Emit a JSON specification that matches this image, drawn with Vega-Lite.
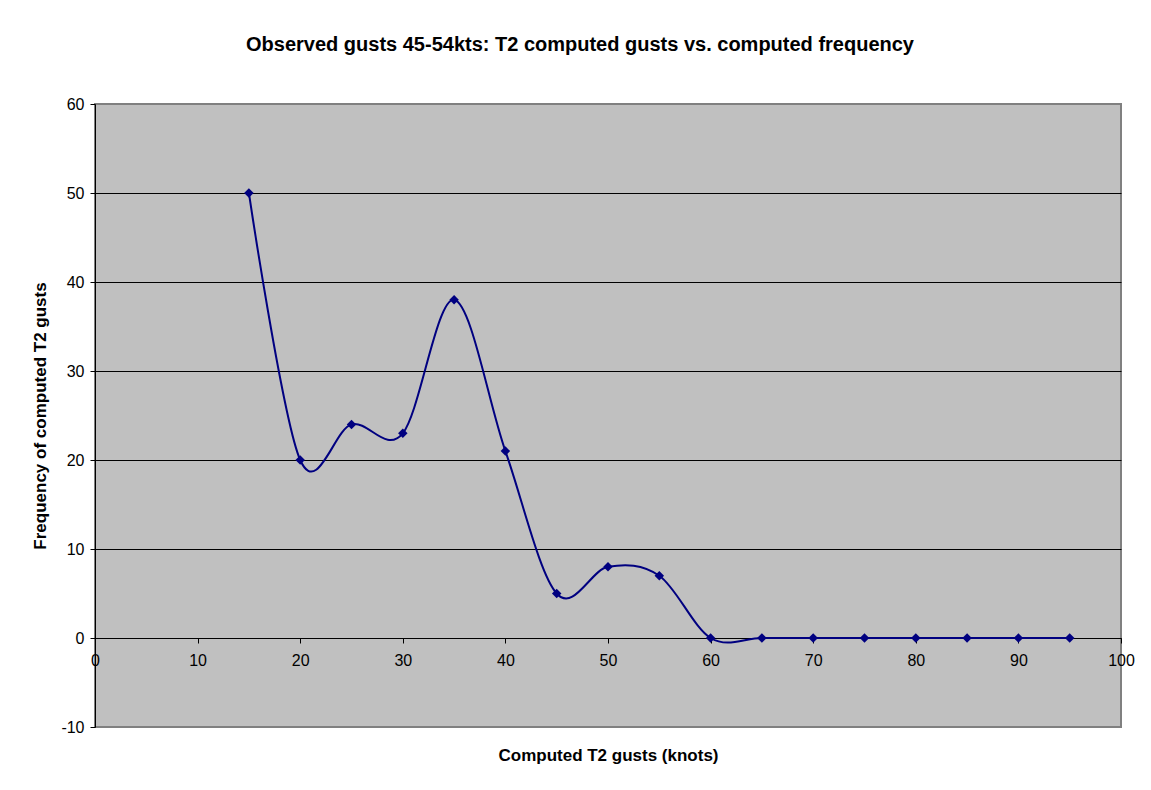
{
  "$schema": "https://vega.github.io/schema/vega-lite/v6.json",
  "width": 1026,
  "height": 623,
  "autosize": {"type": "none"},
  "padding": {"left": 95, "top": 104, "right": 30, "bottom": 63},
  "background": "white",
  "config": {
    "font": "Liberation Sans",
    "view": {"fill": "#C0C0C0", "stroke": "#808080", "strokeWidth": 2}
  },
  "title": {
    "text": "Observed gusts 45-54kts: T2 computed gusts vs. computed frequency",
    "font": "Liberation Sans",
    "fontSize": 20,
    "fontWeight": "bold",
    "color": "black",
    "anchor": "middle",
    "dx": -28,
    "offset": 41
  },
  "data": {
    "values": [
      {"gust": 15, "freq": 50},
      {"gust": 20, "freq": 20},
      {"gust": 25, "freq": 24},
      {"gust": 30, "freq": 23},
      {"gust": 35, "freq": 38},
      {"gust": 40, "freq": 21},
      {"gust": 45, "freq": 5},
      {"gust": 50, "freq": 8},
      {"gust": 55, "freq": 7},
      {"gust": 60, "freq": 0},
      {"gust": 65, "freq": 0},
      {"gust": 70, "freq": 0},
      {"gust": 75, "freq": 0},
      {"gust": 80, "freq": 0},
      {"gust": 85, "freq": 0},
      {"gust": 90, "freq": 0},
      {"gust": 95, "freq": 0}
    ]
  },
  "encoding": {
    "x": {
      "field": "gust",
      "type": "quantitative",
      "scale": {"domain": [0, 100], "nice": false, "zero": false},
      "axis": {
        "values": [0, 10, 20, 30, 40, 50, 60, 70, 80, 90, 100],
        "offset": -89,
        "grid": false,
        "domainColor": "black",
        "domainWidth": 1,
        "tickColor": "black",
        "tickSize": 5,
        "labelFontSize": 16,
        "labelColor": "black",
        "labelPadding": 9,
        "labelFlush": false,
        "labelOverlap": false,
        "labelFont": "Liberation Sans",
        "labelExpr": "datum.value + ''",
        "title": "Computed T2 gusts (knots)",
        "titleFont": "Liberation Sans",
        "titleFontSize": 17,
        "titleFontWeight": "bold",
        "titleColor": "black",
        "titlePadding": 79
      }
    },
    "y": {
      "field": "freq",
      "type": "quantitative",
      "scale": {"domain": [-10, 60], "nice": false, "zero": false},
      "axis": {
        "values": [-10, 0, 10, 20, 30, 40, 50, 60],
        "grid": true,
        "gridColor": {
          "condition": {"test": "datum.value == 60 || datum.value == -10", "value": "#808080"},
          "value": "black"
        },
        "gridWidth": 1,
        "domainColor": "black",
        "tickColor": "black",
        "tickSize": 5,
        "labelFontSize": 16,
        "labelColor": "black",
        "labelPadding": 6,
        "labelFlush": false,
        "labelOverlap": false,
        "labelFont": "Liberation Sans",
        "labelExpr": "datum.value + ''",
        "title": "Frequency of computed T2 gusts",
        "titleFont": "Liberation Sans",
        "titleFontSize": 17,
        "titleFontWeight": "bold",
        "titleColor": "black",
        "titlePadding": 11
      }
    }
  },
  "layer": [
    {
      "mark": {"type": "line", "interpolate": "cardinal", "tension": 0, "color": "#000080", "strokeWidth": 2}
    },
    {
      "mark": {"type": "point", "shape": "diamond", "filled": true, "size": 90, "color": "#000080", "opacity": 1}
    }
  ]
}
